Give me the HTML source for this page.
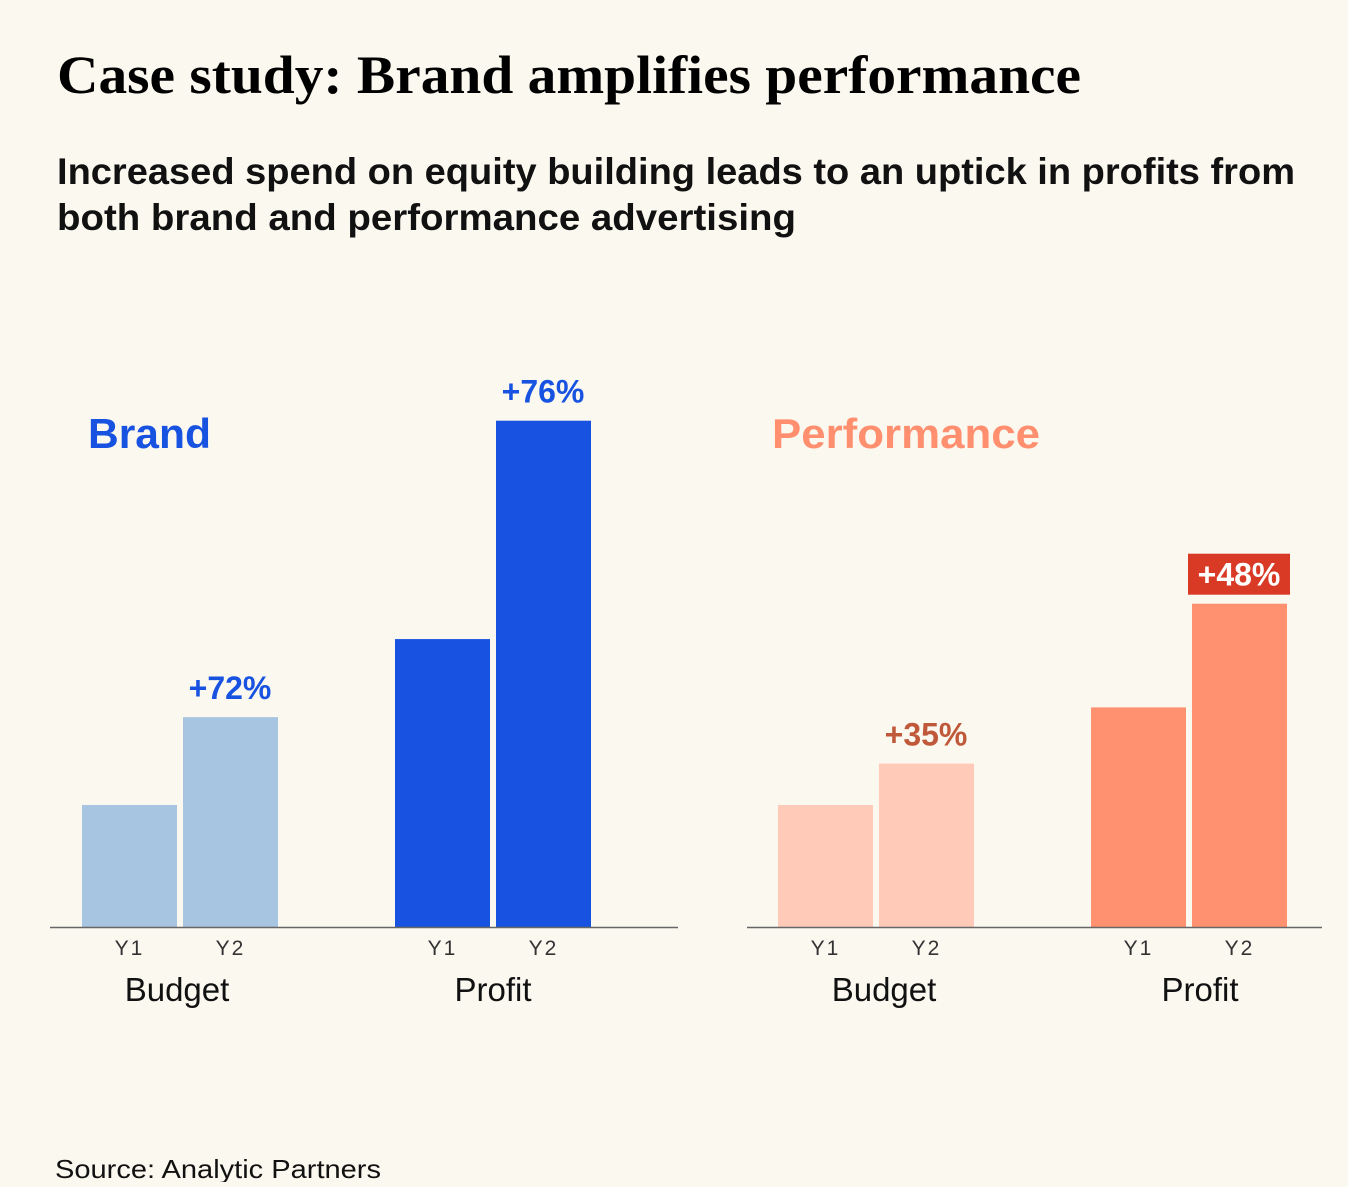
<!DOCTYPE html>
<html><head><meta charset="utf-8"><style>
body{margin:0;background:#fbf8f0;width:1348px;height:1182px;overflow:hidden;font-family:"Liberation Sans",sans-serif;}
</style></head><body>
<svg width="1348" height="1182">
<text x="57" y="93" font-family="Liberation Serif, serif" font-weight="bold" font-size="54" textLength="1024" lengthAdjust="spacingAndGlyphs" fill="#000">Case study: Brand amplifies performance</text>
<text x="57" y="184" font-size="37" font-weight="bold" textLength="1238" lengthAdjust="spacingAndGlyphs" fill="#111">Increased spend on equity building leads to an uptick in profits from</text>
<text x="57" y="230" font-size="37" font-weight="bold" textLength="739" lengthAdjust="spacingAndGlyphs" fill="#111">both brand and performance advertising</text>
<text x="88" y="448" font-size="42" font-weight="bold" textLength="123" lengthAdjust="spacingAndGlyphs" fill="#1753e0">Brand</text>
<text x="772" y="448" font-size="42" font-weight="bold" textLength="268" lengthAdjust="spacingAndGlyphs" fill="#ff8f6e">Performance</text>
<g id="marks"></g>
<text x="55" y="1178" font-size="26" textLength="326" lengthAdjust="spacingAndGlyphs" fill="#111">Source: Analytic Partners</text>
</svg>
<script>
const groups = ["Budget","Profit"];
const years = ["Y1","Y2"];
const brandValues = [[100,172],[236,415]];
const perfValues = [[100,134],[180,265]];
const brandLabels = ["+72%","+76%"];
const perfLabels = ["+35%","+48%"];

const NS="http://www.w3.org/2000/svg";
const g=document.getElementById('marks');
const baseY=927, scale=1.22;
function y(v){return baseY - v*scale;}
function mk(tag,attrs,txt){const e=document.createElementNS(NS,tag);for(const k in attrs)e.setAttribute(k,attrs[k]);if(txt!==undefined)e.textContent=txt;g.appendChild(e);return e;}
const panels=[
 {name:'brand',vals:brandValues,labels:brandLabels,axis:[50,678],gx:[82,395],lo:[95,98],colors:[['#a7c4e0','#a7c4e0'],['#1753e0','#1753e0']],lab:['#1753e0','#1753e0'],box:[false,false]},
 {name:'performance',vals:perfValues,labels:perfLabels,axis:[747,1322],gx:[778,1091],lo:[106,109],colors:[['#ffcab8','#ffcab8'],['#ff9170','#ff9170']],lab:['#c0593a','#fff'],box:[false,true]}
];
panels.forEach(p=>{
 groups.forEach((gn,gi)=>{
  years.forEach((yr,yi)=>{
   const x=p.gx[gi]+yi*101, w=95, v=p.vals[gi][yi];
   const r=mk('rect',{x:x,y:y(v),width:w,height:v*scale,fill:p.colors[gi][yi]});
   
   
   const t=mk('text',{x:x+w/2,y:955,'text-anchor':'middle','font-size':21,'letter-spacing':'2',fill:'#333'},yr);
   
   
  });
  const cx=p.gx[gi]+p.lo[gi];
  const gl=mk('text',{x:cx,y:1001,'text-anchor':'middle','font-size':33,fill:'#111'},gn);
  
  
  const lx=p.gx[gi]+101+47, ly=y(p.vals[gi][1])-18;
  if(p.box[gi]){
   const b=mk('rect',{x:lx-51,y:ly-32,width:102,height:41,fill:'#d93a26'});
   
   
  }
  const ct=mk('text',{x:lx,y:ly,'text-anchor':'middle','font-size':32,'font-weight':'bold',fill:p.lab[gi]},p.labels[gi]);
  
  
 });
 const ax=mk('line',{x1:p.axis[0],x2:p.axis[1],y1:baseY+0.5,y2:baseY+0.5,stroke:'#666','stroke-width':1.5});
 
 
});
</script>
</body></html>
